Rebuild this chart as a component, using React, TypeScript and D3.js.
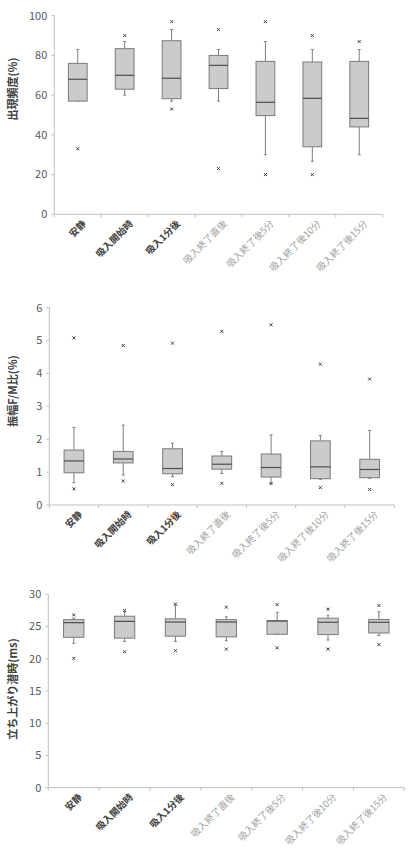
import React from 'react';
import * as d3 from 'd3';

const width = 409;
const height = 851;

const categories = ['安静', '吸入開始時', '吸入1分後', '吸入終了直後', '吸入終了後5分', '吸入終了後10分', '吸入終了後15分'];
const boldCount = 3;

// chart 1: 出現頻度(%)
const freqLow = [57, 60, 57, 57, 30, 26.7, 30];
const freqQ1 = [57, 63, 58.2, 63.3, 49.7, 34, 44];
const freqMed = [68, 70, 68.5, 75, 56.4, 58.4, 48.3];
const freqQ3 = [76, 83.4, 87.4, 80, 77, 76.7, 77];
const freqHigh = [83, 87, 93, 83, 87, 83, 83];
const freqOut = [[33], [90], [97, 53], [93, 23], [97, 20], [90, 20], [87]];
const freqTicks = [0, 20, 40, 60, 80, 100];

// chart 2: 振幅F/M比(%)
const ampLow = [0.68, 0.91, 0.86, 0.96, 0.66, 0.78, 0.81];
const ampQ1 = [0.98, 1.28, 0.95, 1.09, 0.85, 0.8, 0.83];
const ampMed = [1.34, 1.4, 1.11, 1.24, 1.14, 1.16, 1.08];
const ampQ3 = [1.67, 1.63, 1.71, 1.49, 1.55, 1.95, 1.39];
const ampHigh = [2.36, 2.43, 1.88, 1.63, 2.13, 2.11, 2.27];
const ampOut = [[5.08, 0.49], [4.85, 0.73], [4.92, 0.62], [5.28, 0.66], [5.48, 0.65], [4.28, 0.53], [3.83, 0.47]];
const ampTicks = [0, 1, 2, 3, 4, 5, 6];

// chart 3: 立ち上がり潜時(ms)
const latLow = [22.4, 22.7, 22.7, 22.8, 23.75, 22.9, 23.6];
const latQ1 = [23.33, 23.2, 23.5, 23.4, 23.8, 23.75, 24.0];
const latMed = [25.6, 25.8, 25.7, 25.7, 25.87, 25.66, 25.66];
const latQ3 = [26.07, 26.6, 26.2, 26.07, 25.87, 26.3, 26.1];
const latHigh = [26.3, 27.3, 28.3, 26.5, 27.2, 26.75, 27.3];
const latOut = [[26.8, 20.07], [27.5, 21.1], [28.5, 21.26], [28.0, 21.5], [28.4, 21.7], [27.7, 21.5], [28.25, 22.2]];
const latTicks = [0, 5, 10, 15, 20, 25, 30];

const font = '"Noto Sans CJK JP", "Noto Sans", sans-serif';

function BoxChart({ left, right, top, bottom, max, ticks, label, labelY, low, q1, med, q3, high, out }) {
  const x = d3.scaleBand().domain(categories).range([left, right]);
  const y = d3.scaleLinear().domain([0, max]).range([bottom, top]);
  const bw = x.bandwidth() * 0.4;
  const cap = 1.5;

  return (
    <g>
      {/* axes */}
      <line x1={left} x2={left} y1={top} y2={bottom} stroke="#bfbfbf" />
      <line x1={left} x2={right} y1={bottom} y2={bottom} stroke="#bfbfbf" />
      {ticks.map(t => (
        <g key={t}>
          <line x1={left - 3} x2={left} y1={y(t)} y2={y(t)} stroke="#bfbfbf" />
          <text x={left - 7} y={y(t)} dy="0.35em" textAnchor="end" fontSize="11" fill="#595959" fontFamily={font}>{t}</text>
        </g>
      ))}
      {categories.map((c, i) => (
        <line key={c} x1={x(c)} x2={x(c)} y1={bottom} y2={bottom + 3} stroke="#bfbfbf" />
      ))}
      <line x1={right} x2={right} y1={bottom} y2={bottom + 3} stroke="#bfbfbf" />

      {categories.map((c, i) => {
        const cx = x(c) + x.bandwidth() / 2;
        return (
          <g key={c}>
            <line x1={cx} x2={cx} y1={y(high[i])} y2={y(q3[i])} stroke="#7f7f7f" />
            <line x1={cx} x2={cx} y1={y(q1[i])} y2={y(low[i])} stroke="#7f7f7f" />
            <line x1={cx - cap} x2={cx + cap} y1={y(high[i])} y2={y(high[i])} stroke="#7f7f7f" />
            <line x1={cx - cap} x2={cx + cap} y1={y(low[i])} y2={y(low[i])} stroke="#7f7f7f" />
            <rect x={cx - bw / 2} y={y(q3[i])} width={bw} height={y(q1[i]) - y(q3[i])} fill="#cbcbcb" stroke="#7a7a7a" strokeWidth="1" />
            <line x1={cx - bw / 2} x2={cx + bw / 2} y1={y(med[i])} y2={y(med[i])} stroke="#4d4d4d" strokeWidth="1.2" />
            {out[i].map((v, j) => (
              <path key={j} d={`M${cx - 1.5},${y(v) - 1.5}L${cx + 1.5},${y(v) + 1.5}M${cx - 1.5},${y(v) + 1.5}L${cx + 1.5},${y(v) - 1.5}`} stroke="#404040" strokeWidth="1" />
            ))}
            <text
              transform={`translate(${cx + 5},${bottom + 6}) rotate(-45)`}
              textAnchor="end" dy="0.6em" fontSize="9.5" fontFamily={font}
              fontWeight={i < boldCount ? 'bold' : 'normal'}
              fill={i < boldCount ? '#404040' : '#a0a0a0'}
            >{c}</text>
          </g>
        );
      })}

      <text transform={`translate(13,${labelY}) rotate(-90)`} textAnchor="middle" dy="0.35em" fontSize="11" fontWeight="bold" fill="#404040" fontFamily={font}>{label}</text>
    </g>
  );
}

export default function App() {
  return (
    <div style={{ position: 'absolute', left: 0, top: 0 }}>
      <svg width={width} height={height} style={{ display: 'block', background: '#fff' }}>
        <BoxChart left={54.3} right={382.7} top={15.7} bottom={214.3} max={100} ticks={freqTicks}
          label="出現頻度(%)" labelY={89}
          low={freqLow} q1={freqQ1} med={freqMed} q3={freqQ3} high={freqHigh} out={freqOut} />
        <BoxChart left={49.3} right={394.3} top={307.7} bottom={505} max={6} ticks={ampTicks}
          label="振幅F/M比(%)" labelY={391}
          low={ampLow} q1={ampQ1} med={ampMed} q3={ampQ3} high={ampHigh} out={ampOut} />
        <BoxChart left={48.3} right={404.3} top={594.3} bottom={787.7} max={30} ticks={latTicks}
          label="立ち上がり潜時(ms)" labelY={689}
          low={latLow} q1={latQ1} med={latMed} q3={latQ3} high={latHigh} out={latOut} />
      </svg>
    </div>
  );
}
